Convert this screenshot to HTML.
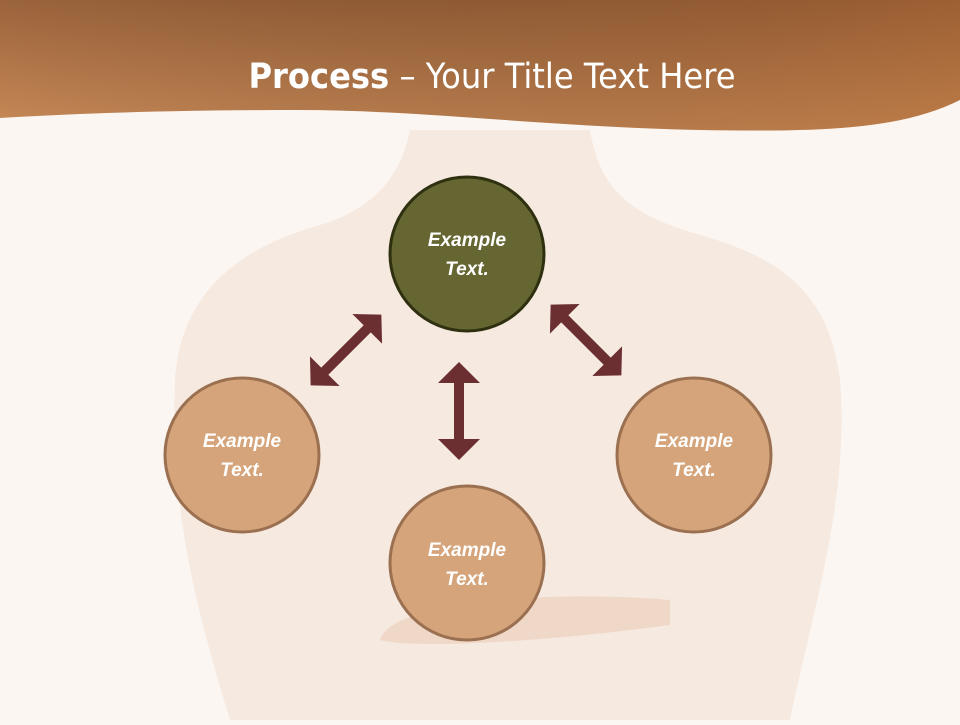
<!DOCTYPE html>
<html><head><meta charset="utf-8"><style>
body{margin:0;width:960px;height:720px;overflow:hidden;background:#fbf6f2;font-family:"Liberation Sans",sans-serif}
</style></head><body>
<svg width="960" height="720" viewBox="0 0 960 720" xmlns="http://www.w3.org/2000/svg">
<defs>
<linearGradient id="hg" x1="0" y1="1" x2="0.3" y2="-0.3">
<stop offset="0" stop-color="#c88a58"/><stop offset="1" stop-color="#8a5530"/>
</linearGradient>
<linearGradient id="hg2" x1="0" y1="0" x2="1" y2="0">
<stop offset="0" stop-color="#000" stop-opacity="0"/><stop offset="1" stop-color="#c07030" stop-opacity="0.25"/>
</linearGradient>
</defs>
<rect width="960" height="720" fill="#fbf6f2"/>
<path d="M230,720 C200,620 170,520 175,380 C180,300 230,250 320,225 C370,210 400,180 410,130 L590,130 C600,190 630,215 700,235 C790,260 830,300 840,380 C850,500 810,620 790,720 Z" fill="#f6e9e0"/>
<path d="M380,640 C390,600 560,590 670,600 L670,625 C560,640 420,650 380,640 Z" fill="#f0d8c8"/>
<path d="M0,0 H960 V100 C900,130 820,132 700,130 C550,127 420,110 300,110 C180,110 80,113 0,118 Z" fill="url(#hg)"/>
<path d="M0,0 H960 V100 C900,130 820,132 700,130 C550,127 420,110 300,110 C180,110 80,113 0,118 Z" fill="url(#hg2)"/>
<text x="492" y="88" text-anchor="middle" fill="#fff" font-family="DejaVu Sans, sans-serif" font-size="35" transform="translate(492 0) scale(0.92 1) translate(-492 0)"><tspan font-weight="bold">Process</tspan> – Your Title Text Here</text>
<g fill="#6b2f32">
<polygon points="459,362 480,383 464,383 464,439 480,439 459,460 438,439 454,439 454,383 438,383"/>
<g transform="translate(346,350) rotate(-45)">
<polygon points="-50,0 -30,-21 -30,-5 30,-5 30,-21 50,0 30,21 30,5 -30,5 -30,21"/>
</g>
<g transform="translate(586,340) rotate(45)">
<polygon points="-50,0 -30,-21 -30,-5 30,-5 30,-21 50,0 30,21 30,5 -30,5 -30,21"/>
</g>
</g>
<circle cx="467" cy="254" r="77" fill="#656632" stroke="#2f3010" stroke-width="3"/>
<circle cx="242" cy="455" r="77" fill="#d5a47b" stroke="#9a7050" stroke-width="3"/>
<circle cx="467" cy="563" r="77" fill="#d5a47b" stroke="#9a7050" stroke-width="3"/>
<circle cx="694" cy="455" r="77" fill="#d5a47b" stroke="#9a7050" stroke-width="3"/>
<g fill="#fff" font-family="Liberation Sans, sans-serif" font-size="19" font-weight="bold" font-style="italic" text-anchor="middle">
<text x="467" y="246">Example</text><text x="467" y="275">Text.</text>
<text x="242" y="447">Example</text><text x="242" y="476">Text.</text>
<text x="467" y="556">Example</text><text x="467" y="585">Text.</text>
<text x="694" y="447">Example</text><text x="694" y="476">Text.</text>
</g>
</svg>
</body></html>
